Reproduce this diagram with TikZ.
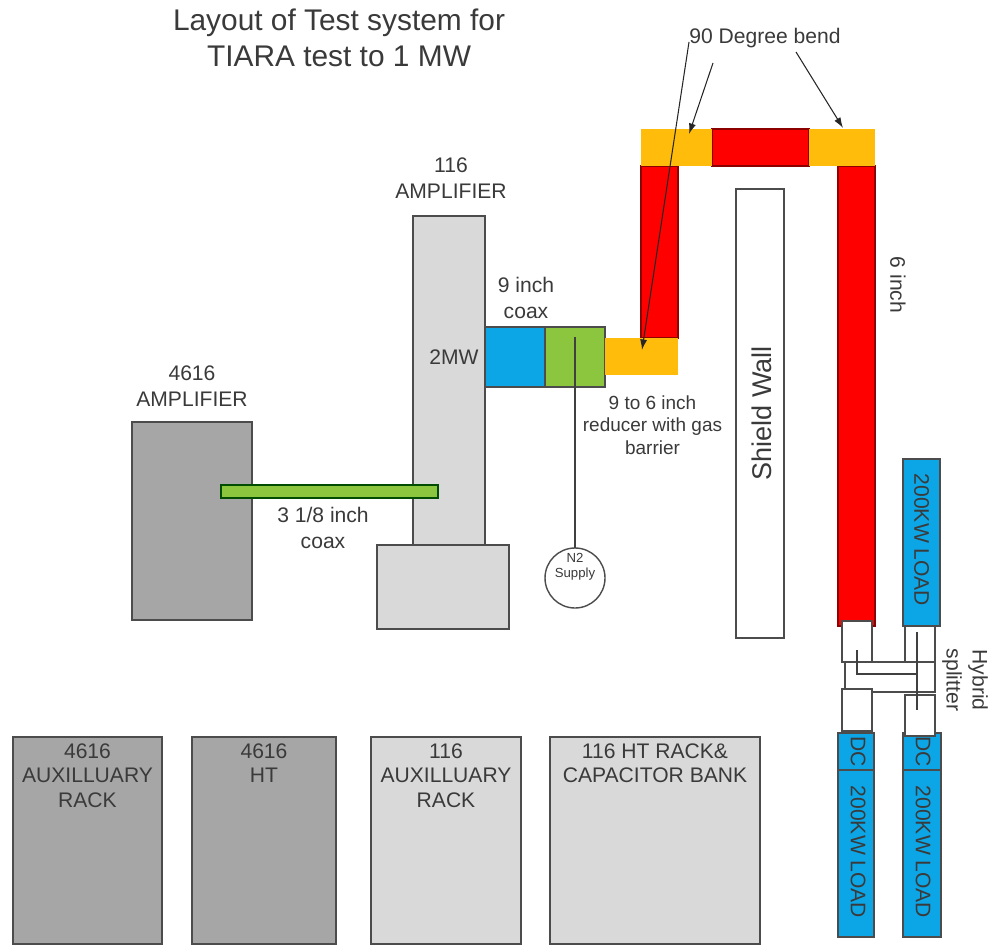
\documentclass[tikz,border=0pt]{standalone}
\usepackage{fontspec}
\setmainfont{Liberation Sans}
\usepackage{tikz}
\usetikzlibrary{arrows.meta}
\definecolor{darkgrey}{HTML}{A6A6A6}
\definecolor{lightgrey}{HTML}{D9D9D9}
\definecolor{coaxblue}{HTML}{0CA6E6}
\definecolor{coaxgreen}{HTML}{8CC63F}
\definecolor{bendorange}{HTML}{FFBC0A}
\definecolor{inkgrey}{HTML}{3A3A3A}
\tikzset{
    part/.style n args={2}{rectangle, inner sep=0pt, outer sep=0pt, minimum width=#1*0.02cm, minimum height=#2*0.02cm},
    outlined/.style={draw=black!70, line width=0.8pt},
    redpipe/.style={fill=red, draw=red!55!black, line width=0.6pt},
    bluepipe/.style={fill=coaxblue, draw=black!70, line width=0.7pt},
    bendpipe/.style={fill=bendorange},
    caption/.style={text=inkgrey, align=center, inner sep=0pt, font=\fontsize{12}{14.8}\selectfont},
    feed/.style={draw=black!75, line width=0.7pt},
    pointer/.style={draw=black!85, line width=0.6pt, -{Latex[length=6pt,width=4pt]}}
}
\begin{document}
\begin{tikzpicture}[x=0.02cm,y=-0.02cm]
            \useasboundingbox (0,0) rectangle (989,945);
            \draw (192, 521)  node[part={120}{198}, outlined, fill=darkgrey] (amp4616) {};
            \draw (449, 380.5)  node[part={72}{329}, outlined, fill=lightgrey] (amp116) {};
            \draw (443, 587)  node[part={132}{84}, outlined, fill=lightgrey] (ampbase) {};
            \draw (329.5, 491.5)  node[part={217}{13}, draw=green!30!black, line width=0.8pt, fill=coaxgreen] (coaxthin) {};
            \draw (515, 357)  node[part={60}{60}, bluepipe] (coaxnine) {};
            \draw (575, 357)  node[part={60}{60}, outlined, fill=coaxgreen] (coaxgas) {};
            % pipe up and over the wall
            \draw (659.5, 252)  node[part={37}{172}, redpipe] (pipeup) {};
            \draw (760.5, 147.5)  node[part={97}{37}, redpipe] (pipetop) {};
            \draw (856.5, 396)  node[part={37}{460}, redpipe] (pipedown) {};
            \draw (641.5, 356.5)  node[part={73}{37}, bendpipe] (reducer) {};
            \draw (676.5, 147.5)  node[part={71}{37}, bendpipe] (bendleft) {};
            \draw (842, 147.5)  node[part={66}{37}, bendpipe] (bendright) {};
            \draw (760, 413.5)  node[part={48}{449}, outlined, fill=white] (wall) {};
            \draw (762, 413.5)  node[caption, rotate=90, font=\fontsize{15.4}{18}\selectfont] (walltext) {Shield Wall};
            % hybrid splitter
            \draw (921.5, 542.5)  node[part={37}{167}, bluepipe] (loadtop) {};
            \draw (856, 751.5)  node[part={36}{37}, bluepipe] (dcleft) {};
            \draw (922, 751.5)  node[part={38}{37}, bluepipe] (dcright) {};
            \draw (856, 853.5)  node[part={36}{167}, bluepipe] (loadleft) {};
            \draw (922, 853.5)  node[part={38}{167}, bluepipe] (loadright) {};
            \draw (857, 641.5)  node[part={30}{41}, outlined, fill=white] (armleft) {};
            \draw (920, 644)  node[part={30}{36}, outlined, fill=white] (armright) {};
            \draw (890, 677)  node[part={90}{30}, outlined, fill=white] (hybrid) {};
            \draw (857, 710)  node[part={30}{42}, outlined, fill=white] (tailleft) {};
            \draw (920, 715.5)  node[part={30}{41}, outlined, fill=white] (tailright) {};
            \coordinate (armtop) at (917, 632);
            \coordinate (armend) at (917, 710);
            \coordinate (stubtop) at (857, 650);
            \coordinate (stubjoin) at (857, 674);
            \coordinate (stubend) at (917, 674);
            \draw[feed] (armtop) -- (armend);
            \draw[feed] (stubtop) -- (stubjoin) -- (stubend);
            % racks along the bottom
            \foreach \cx/\rackw/\col/\id/\txt in {87.5/149/darkgrey/a/{4616\\AUXILLUARY\\RACK},264/144/darkgrey/b/{4616\\HT},446/150/lightgrey/c/{116\\AUXILLUARY\\RACK},655/210/lightgrey/d/{116 HT RACK\&\\CAPACITOR BANK}}{
            \draw (\cx, 840.5) node[part={\rackw}{207}, outlined, fill=\col] (rack\id) {};
            \draw (\cx, 743) node[caption, anchor=north, font=\fontsize{12}{14.1}\selectfont] (racktext\id) {\txt};
            }
            % gas feed
            \draw (575, 578)  node[circle, draw=black!70, line width=0.8pt, fill=white, minimum size=60*0.02cm, inner sep=0pt, outer sep=0pt] (supply) {};
            \draw (575, 567)  node[caption, font=\fontsize{7.5}{8.8}\selectfont] (supplytext) {N2\\Supply};
            \coordinate (gastap) at (575, 337);
            \draw[feed] (gastap) -- (supply);
            % texts
            \draw (339, 38)  node[caption, font=\fontsize{17}{20.2}\selectfont] (title) {Layout of Test system for\\TIARA test to 1 MW};
            \draw (765, 38)  node[caption] (bendtext) {90 Degree bend};
            \draw (451, 178)  node[caption] (amp116text) {116\\AMPLIFIER};
            \draw (192, 386)  node[caption] (amp4616text) {4616\\AMPLIFIER};
            \draw (454, 357)  node[caption] (powertext) {2MW};
            \draw (526, 298)  node[caption] (ninetext) {9 inch\\coax};
            \draw (652.5, 425)  node[caption, font=\fontsize{10.8}{12.8}\selectfont] (reducertext) {9 to 6 inch\\reducer with gas\\barrier};
            \draw (323, 528)  node[caption] (thintext) {3 1/8 inch\\coax};
            \draw (898, 285)  node[caption, rotate=-90] (sixtext) {6 inch};
            \draw (965, 680)  node[caption, rotate=-90] (hybridtext) {Hybrid\\splitter};
            \draw (921.5, 540)  node[caption, rotate=-90] (loadtoptext) {200KW LOAD};
            \draw (858, 751.5)  node[caption, rotate=-90] (dclefttext) {DC};
            \draw (923, 751.5)  node[caption, rotate=-90] (dcrighttext) {DC};
            \draw (858, 852)  node[caption, rotate=-90] (loadlefttext) {200KW LOAD};
            \draw (923, 852)  node[caption, rotate=-90] (loadrighttext) {200KW LOAD};
            % arrows to the bends
            \coordinate (tailone) at (689, 42);
            \coordinate (tipone) at (642, 350);
            \coordinate (tailtwo) at (713, 63);
            \coordinate (tiptwo) at (689, 134);
            \coordinate (tailthree) at (796, 52);
            \coordinate (tipthree) at (843, 128);
            \draw[pointer] (tailone) -- (tipone);
            \draw[pointer] (tailtwo) -- (tiptwo);
            \draw[pointer] (tailthree) -- (tipthree);
        \end{tikzpicture}
\end{document}
